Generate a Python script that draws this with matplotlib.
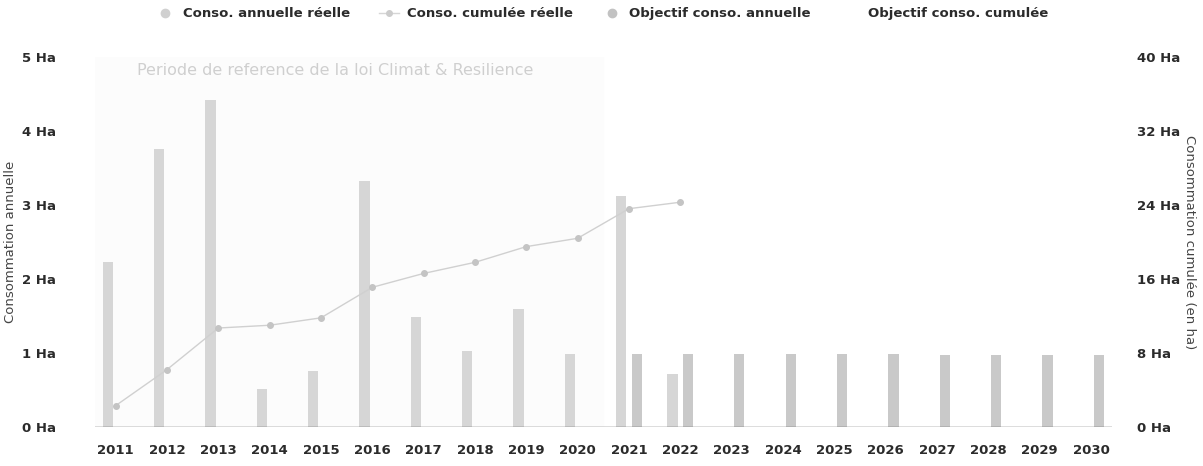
import numpy as np
import matplotlib
matplotlib.use('Agg')
import matplotlib.pyplot as plt
from matplotlib.lines import Line2D

years = [str(y) for y in range(2011, 2031)]
# conso annuelle reelle (Ha), 2011-2022
conso_annuelle = [2.23, 3.75, 4.42, 0.51, 0.76, 3.33, 1.49, 1.03, 1.59, 0.98, 3.12, 0.72]
# conso cumulee reelle (Ha), 2011-2022
conso_cumulee = [2.3, 6.2, 10.7, 11.0, 11.8, 15.1, 16.6, 17.8, 19.5, 20.4, 23.6, 24.3]
# objectif conso annuelle (Ha), 2021-2030
objectif_annuelle = [0.98, 0.98, 0.98, 0.98, 0.98, 0.98, 0.97, 0.97, 0.97, 0.97]
yticks_left = [0, 1, 2, 3, 4, 5]
yticks_right = [0, 8, 16, 24, 32, 40]

plt.rcParams['font.family'] = ['DejaVu Sans']
txt = '#2b2b2b'

fig = plt.figure(figsize=(12.03, 4.66), dpi=100)
ax = fig.add_axes([0.079, 0.0837, 0.845, 0.794])
ax2 = ax.twinx()

x = np.arange(len(years))
w = 0.2
x_real = x[:len(conso_annuelle)]
x_obj = x[len(years) - len(objectif_annuelle):]

# periode de reference (bande tres claire)
ax.axvspan(-0.4, 9.5, color='#fcfcfc', zorder=0)
ax.text(4.28, 4.82, 'Periode de reference de la loi Climat & Resilience',
        ha='center', va='center', fontsize=11.5, color='#cfcfcf')

ax.bar(x_real - 0.15, conso_annuelle, width=w, color='#d6d6d6', zorder=2)
ax.bar(x_obj + 0.15, objectif_annuelle, width=w, color='#c9c9c9', zorder=2)

ax2.plot(x_real, conso_cumulee, color='#d0d0d0', lw=1.0, marker='o', ms=4,
         mfc='#c4c4c4', mec='#c4c4c4', zorder=3)

ax.set_xlim(-0.4, 19.4)
ax.set_ylim(0, 5)
ax2.set_ylim(0, 40)
ax.set_xticks(x)
ax.set_xticklabels(years, fontsize=9.5, color=txt, fontweight='bold')
ax.set_yticks(yticks_left)
ax.set_yticklabels(['%d Ha' % v for v in yticks_left], fontsize=9.5, color=txt, fontweight='bold')
ax2.set_yticks(yticks_right)
ax2.set_yticklabels(['%d Ha' % v for v in yticks_right], fontsize=9.5, color=txt, fontweight='bold')

for a in (ax, ax2):
    for s in ('top', 'right', 'left', 'bottom'):
        a.spines[s].set_visible(False)
    a.tick_params(length=0)
ax.axhline(0, color='#555555', lw=1.0, zorder=4)
ax.tick_params(axis='x', pad=12)
ax.tick_params(axis='y', pad=28)
ax2.tick_params(axis='y', pad=18)

ax.set_ylabel('Consommation annuelle', fontsize=9.5, color='#444444')
ax.yaxis.set_label_coords(-0.077, 0.5)
ax2.set_ylabel('Consommation cumulée (en ha)', fontsize=9.5, color='#444444',
               rotation=270, va='center')
ax2.yaxis.set_label_coords(1.077, 0.5)

handles = [
    Line2D([], [], ls='none', marker='o', ms=6, mfc='#d0d0d0', mec='#d0d0d0'),
    Line2D([], [], color='#d6d6d6', lw=1, marker='o', ms=4, mfc='#cccccc', mec='#cccccc'),
    Line2D([], [], ls='none', marker='o', ms=6, mfc='#c2c2c2', mec='#c2c2c2'),
    Line2D([], [], ls='none', marker=None),
]
labels = ['Conso. annuelle réelle', 'Conso. cumulée réelle',
          'Objectif conso. annuelle', 'Objectif conso. cumulée']
leg = fig.legend(handles, labels, loc='upper center', bbox_to_anchor=(0.5, 1.01),
                 ncol=4, frameon=False, fontsize=9.5, handlelength=1.5,
                 columnspacing=2.2, handletextpad=0.6)
for t in leg.get_texts():
    t.set_color(txt)
    t.set_fontweight('bold')

fig.savefig('out.png', dpi=100)
